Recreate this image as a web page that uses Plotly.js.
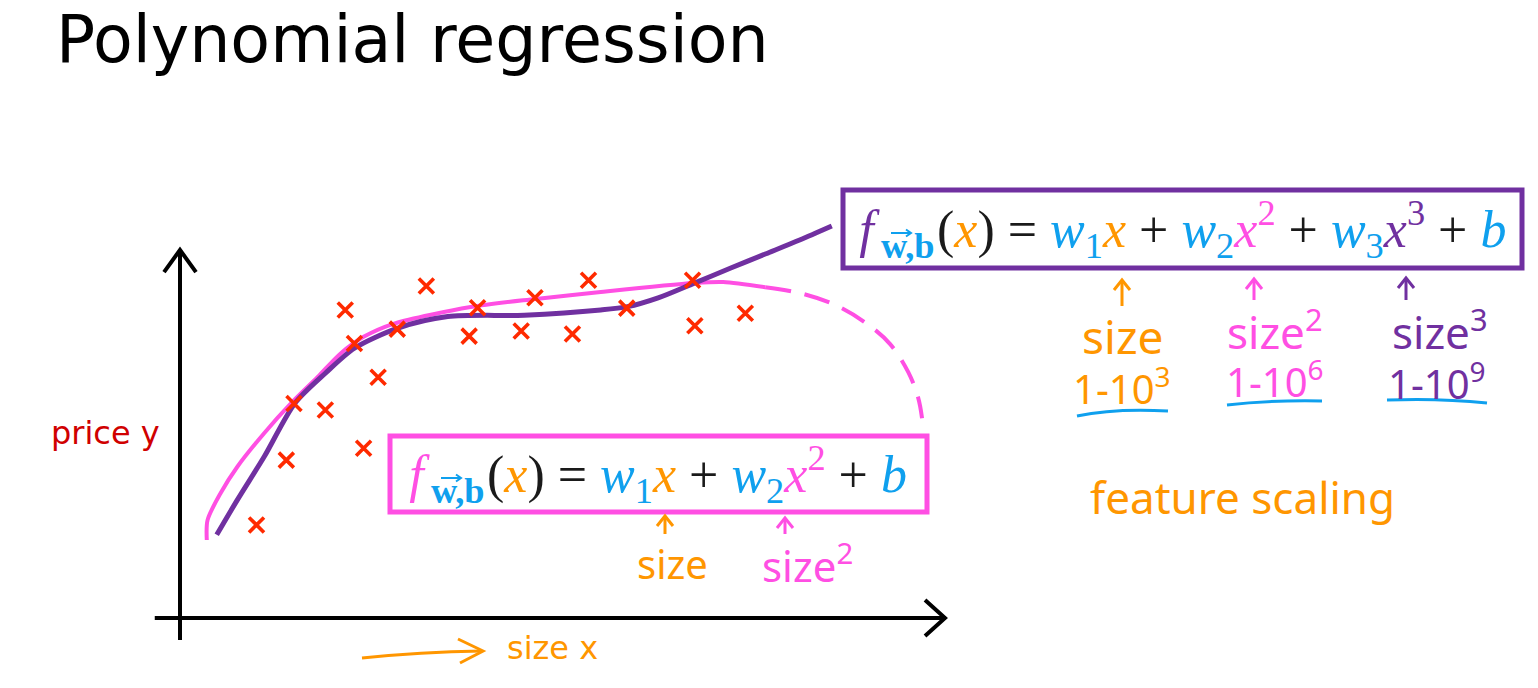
<!DOCTYPE html>
<html><head><meta charset="utf-8">
<script src="https://cdn.plot.ly/plotly-3.0.1.min.js"></script>
<style>html,body{margin:0;padding:0;background:#fff}#chart{width:1538px;height:688px}</style>
</head><body><div id="chart"></div>
<script>
// ---- data (size units 0..100, price units 0..100) ----
const pointSize  = [10.0, 13.9, 24.0, 19.0, 14.9, 25.9, 22.8, 21.6, 28.4, 32.2, 37.8, 38.9, 44.6, 46.4, 51.3, 53.4, 58.4, 67.3, 67.0, 73.9];
const pointPrice = [25.3, 42.9, 46.1, 56.5, 58.3, 65.4, 74.6, 83.7, 78.5, 90.2, 76.6, 84.3, 78.0, 87.0, 77.2, 91.8, 84.2, 79.4, 91.8, 82.8];

const cubicSize  = [4.8, 7.5, 11.0, 15.0, 19.0, 22.8, 28.4, 35.0, 45.0, 55.0, 58.5, 62.5, 67.0, 72.0, 76.5, 81.0, 85.2];
const cubicPrice = [22.6, 32.1, 43.8, 58.3, 66.5, 73.3, 78.7, 81.9, 82.3, 83.7, 84.6, 87.0, 90.8, 95.1, 98.9, 102.7, 106.5];

const quadSize  = [3.5, 3.6, 5.3, 7.5, 11.0, 14.5, 18.0, 21.0, 24.0, 28.0, 38.0, 46.5, 55.0, 67.1, 71.0, 76.5];
const quadPrice = [21.2, 26.6, 33.9, 41.1, 50.2, 58.3, 65.5, 71.9, 76.4, 80.0, 84.5, 86.7, 88.6, 91.0, 91.3, 89.9];

const quadExtSize  = [76.5, 81.0, 85.6, 89.5, 92.8, 95.2, 96.5, 97.0];
const quadExtPrice = [89.9, 88.3, 85.1, 80.4, 74.5, 66.8, 59.8, 54.3];

const titleText = 'Polynomial regression';
const yLabel = 'price y';
const xLabel = 'size x';

// ---- colours ----
const C = {
  purple: '#7030a0', magenta: '#ff4fe3', blue: '#0fa0ee', orange: '#ff9600',
  red: '#ff2a00', darkred: '#d00000', black: '#1a1a1a'
};

// helpers for paper coordinates (layout decoration only)
const PX = x => x / 1538;
const PY = y => 1 - y / 688;

function sp(t, c) { return '<span style="color:' + c + '">' + t + '</span>'; }
function it(t, c) { return '<i>' + sp(t, c) + '</i>'; }
const ghostSup = '<sup>' + sp('2', 'rgba(0,0,0,0)') + '</sup>';
function prefix(fc) { return ghostSup + it('f', fc) + '<sub><b>' + sp('\u2009w,b', C.blue) + '</b></sub>'; }
const topRest = '(' + it('x', C.orange) + ') = ' +
  it('w', C.blue) + '<sub>' + sp('1', C.blue) + '</sub>' + it('x', C.orange) + ' + ' +
  it('w', C.blue) + '<sub>' + sp('2', C.blue) + '</sub>' + it('x', C.magenta) + '<sup>' + sp('2', C.magenta) + '</sup> + ' +
  it('w', C.blue) + '<sub>' + sp('3', C.blue) + '</sub>' + it('x', C.purple) + '<sup>' + sp('3', C.purple) + '</sup> + ' +
  it('b', C.blue);
const lowRest = '(' + it('x', C.orange) + ') = ' +
  it('w', C.blue) + '<sub>' + sp('1', C.blue) + '</sub>' + it('x', C.orange) + ' + ' +
  it('w', C.blue) + '<sub>' + sp('2', C.blue) + '</sub>' + it('x', C.magenta) + '<sup>' + sp('2', C.magenta) + '</sup> + ' +
  it('b', C.blue);

const traces = [
  { x: quadSize, y: quadPrice, mode: 'lines', line: { color: C.magenta, width: 4, shape: 'spline', smoothing: 0.8 }, hoverinfo: 'skip' },
  { x: quadExtSize, y: quadExtPrice, mode: 'lines', line: { color: C.magenta, width: 4, shape: 'spline', dash: '26px,14px' }, hoverinfo: 'skip' },
  { x: cubicSize, y: cubicPrice, mode: 'lines', line: { color: C.purple, width: 5, shape: 'spline', smoothing: 0.8 }, hoverinfo: 'skip' },
  { x: pointSize, y: pointPrice, mode: 'markers', marker: { symbol: 'x-thin', size: 15, line: { color: C.red, width: 3.6 } }, hoverinfo: 'skip' }
];

const hand = 'Noto Sans';
function ann(x, y, text, color, size, family, extra) {
  return Object.assign({ xref: 'paper', yref: 'paper', x: PX(x), y: PY(y), text: text, showarrow: false,
    xanchor: 'center', yanchor: 'middle', font: { color: color, size: size, family: family || hand } }, extra || {});
}

const annotations = [
  ann(54, 40, titleText, '#000', 65, 'DejaVu Sans', { xanchor: 'left' }),
  ann(162, 433, yLabel, C.darkred, 32, 'DejaVu Sans', { xanchor: 'right' }),
  ann(505, 648, xLabel, C.orange, 32, 'DejaVu Sans', { xanchor: 'left' }),
  ann(937, 229, prefix(C.purple), C.black, 52, 'Liberation Serif', { xanchor: 'right' }),
  ann(935, 229, topRest, C.black, 52, 'Liberation Serif', { xanchor: 'left' }),
  ann(487, 474, prefix(C.magenta), C.black, 52, 'Liberation Serif', { xanchor: 'right' }),
  ann(485, 474, lowRest, C.black, 52, 'Liberation Serif', { xanchor: 'left' }),
  // labels under lower formula
  ann(672, 563, 'size', C.orange, 40),
  ann(808, 563, 'size<sup>2</sup>', C.magenta, 42),
  // right side
  ann(1122, 336, 'size', C.orange, 46),
  ann(1122, 386, '1-10<sup>3</sup>', C.orange, 40),
  ann(1275, 330, 'size<sup>2</sup>', C.magenta, 44),
  ann(1275, 379, '1-10<sup>6</sup>', C.magenta, 40),
  ann(1440, 330, 'size<sup>3</sup>', C.purple, 44),
  ann(1437, 381, '1-10<sup>9</sup>', C.purple, 40),
  ann(1242, 497, 'feature scaling', C.orange, 44)
];

function pth(pts) {
  return pts.map((p, i) => (i ? ' L ' : 'M ') + PX(p[0]) + ',' + PY(p[1])).join('');
}
function upArrow(x, yTip, yBot, color) {
  return [
    { type: 'path', xref: 'paper', yref: 'paper', path: pth([[x, yBot], [x, yTip]]), line: { color: color, width: 3 } },
    { type: 'path', xref: 'paper', yref: 'paper', path: pth([[x - 8, yTip + 10], [x, yTip], [x + 8, yTip + 10]]), line: { color: color, width: 3 } }
  ];
}
function vecArrow(x0, x1, y, color) {
  return [
    { type: 'path', xref: 'paper', yref: 'paper', path: pth([[x0, y], [x1, y]]), line: { color: color, width: 2 } },
    { type: 'path', xref: 'paper', yref: 'paper', path: pth([[x1 - 5, y - 3.5], [x1, y], [x1 - 5, y + 3.5]]), line: { color: color, width: 2 } }
  ];
}

const shapes = [
  // axes (data coords)
  { type: 'line', xref: 'x', yref: 'y', x0: 0, y0: -6, x1: 0, y1: 100, line: { color: '#000', width: 4 } },
  { type: 'line', xref: 'x', yref: 'y', x0: -3.3, y0: 0, x1: 100, y1: 0, line: { color: '#000', width: 4 } },
  { type: 'path', xref: 'x', yref: 'y', path: 'M -2.09,94.0 L 0,100 L 2.09,94.0', line: { color: '#000', width: 4 } },
  { type: 'path', xref: 'x', yref: 'y', path: 'M 97.39,4.89 L 100,0 L 97.39,-4.89', line: { color: '#000', width: 4 } },
  // formula boxes
  { type: 'rect', xref: 'paper', yref: 'paper', x0: PX(843), y0: PY(268), x1: PX(1522), y1: PY(190), line: { color: C.purple, width: 5 }, fillcolor: '#fff', layer: 'above' },
  { type: 'rect', xref: 'paper', yref: 'paper', x0: PX(390), y0: PY(512), x1: PX(927), y1: PY(436), line: { color: C.magenta, width: 5 }, fillcolor: '#fff', layer: 'above' },
  // orange arrow near size x
  { type: 'path', xref: 'paper', yref: 'paper', path: 'M ' + PX(362) + ',' + PY(658) + ' Q ' + PX(420) + ',' + PY(652) + ' ' + PX(482) + ',' + PY(651), line: { color: C.orange, width: 3 } },
  { type: 'path', xref: 'paper', yref: 'paper', path: pth([[458, 639], [483, 651], [460, 663]]), line: { color: C.orange, width: 3 } },
  // blue underlines
  { type: 'path', xref: 'paper', yref: 'paper', path: 'M ' + PX(1077) + ',' + PY(416) + ' Q ' + PX(1115) + ',' + PY(408) + ' ' + PX(1168) + ',' + PY(411), line: { color: C.blue, width: 3 } },
  { type: 'path', xref: 'paper', yref: 'paper', path: 'M ' + PX(1227) + ',' + PY(405) + ' Q ' + PX(1270) + ',' + PY(400) + ' ' + PX(1322) + ',' + PY(401), line: { color: C.blue, width: 3 } },
  { type: 'path', xref: 'paper', yref: 'paper', path: 'M ' + PX(1387) + ',' + PY(400) + ' Q ' + PX(1440) + ',' + PY(398) + ' ' + PX(1487) + ',' + PY(403), line: { color: C.blue, width: 3 } }
].concat(
  upArrow(1122, 280, 306, C.orange),
  upArrow(1254, 279, 300, C.magenta),
  upArrow(1406, 278, 300, C.purple),
  upArrow(665, 516, 534, C.orange),
  upArrow(785, 518, 534, C.magenta),
  vecArrow(891, 911, 233, C.blue),
  vecArrow(441, 461, 478, C.blue)
);

const layout = {
  width: 1538, height: 688,
  margin: { l: 0, r: 0, t: 0, b: 0 },
  paper_bgcolor: '#fff', plot_bgcolor: '#fff',
  showlegend: false,
  xaxis: { range: [-23.53, 177.52], visible: false, fixedrange: true },
  yaxis: { range: [-19.02, 167.93], visible: false, fixedrange: true },
  shapes: shapes,
  annotations: annotations
};

Plotly.newPlot('chart', traces, layout, { staticPlot: true, displayModeBar: false });
</script>
</body></html>
